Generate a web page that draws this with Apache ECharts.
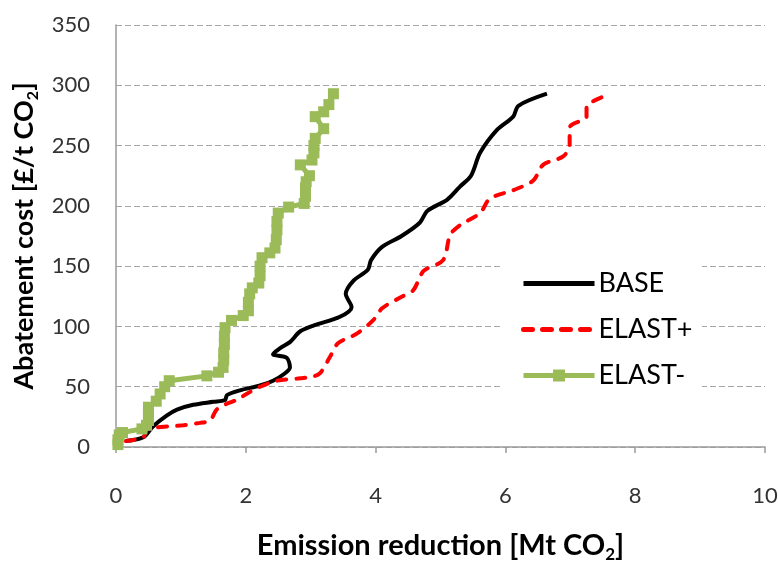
<!DOCTYPE html>
<html>
<head>
<meta charset="utf-8">
<script src="https://cdn.jsdelivr.net/npm/echarts@6/dist/echarts.min.js"></script>
<style>
  html, body { margin: 0; padding: 0; background: #fff; }
  #chart { width: 778px; height: 561px; }
</style>
</head>
<body>
<div id="chart"></div>
<script>
// Marginal abatement cost curves: emission reduction [Mt CO2] vs cost [£/t CO2]
const seriesNames = ['BASE', 'ELAST+', 'ELAST-'];

const baseCurve = [
  [0.15, 5], [0.42, 8], [0.57, 17], [0.78, 26], [0.94, 31], [1.19, 35], [1.5, 37.5],
  [1.68, 39], [1.71, 43], [1.91, 47], [2.22, 51], [2.42, 55], [2.6, 61], [2.68, 66],
  [2.63, 74], [2.42, 77], [2.53, 82], [2.68, 87], [2.84, 96], [3.06, 101], [3.45, 108],
  [3.63, 116], [3.54, 127], [3.66, 138], [3.88, 147], [3.93, 155], [4.1, 166],
  [4.4, 175], [4.68, 186], [4.8, 196], [5.1, 205], [5.3, 216], [5.47, 225], [5.61, 244],
  [5.87, 263], [6.12, 274], [6.2, 283], [6.64, 293]
];

const elastPlusCurve = [
  [0.15, 5], [0.42, 8], [0.47, 14], [0.6, 16], [0.78, 17], [1.04, 18], [1.29, 20],
  [1.45, 22], [1.55, 31], [1.71, 36], [1.86, 39], [2.01, 44], [2.22, 50], [2.48, 55],
  [2.84, 57], [3.0, 58], [3.14, 61], [3.3, 75], [3.42, 86], [3.71, 94], [3.96, 105],
  [4.1, 115], [4.38, 124], [4.58, 130], [4.74, 146], [5.04, 155], [5.15, 176],
  [5.3, 184], [5.61, 194], [5.76, 206], [6.12, 213], [6.43, 221], [6.58, 234],
  [6.89, 241], [6.99, 250], [6.99, 265], [7.25, 274], [7.25, 282], [7.53, 291]
];

const elastMinusCurve = [
  [0.03, 2], [0.03, 6], [0.05, 10], [0.1, 12], [0.4, 15], [0.47, 18], [0.5, 22],
  [0.5, 28], [0.5, 33], [0.62, 38], [0.68, 44], [0.75, 50], [0.82, 55], [1.4, 59],
  [1.58, 62], [1.65, 66], [1.66, 72], [1.66, 78], [1.67, 85], [1.67, 92], [1.68, 99],
  [1.78, 105], [1.96, 109], [2.04, 113], [2.04, 120], [2.06, 127], [2.1, 132],
  [2.2, 136], [2.22, 142], [2.22, 150], [2.25, 157], [2.37, 161], [2.45, 165],
  [2.47, 172], [2.48, 180], [2.48, 187], [2.5, 194], [2.66, 199], [2.9, 202],
  [2.92, 208], [2.92, 215], [2.93, 220], [2.98, 225], [2.84, 234], [3.02, 238],
  [3.05, 244], [3.05, 250], [3.07, 256], [3.2, 264], [3.07, 274], [3.2, 278],
  [3.28, 284], [3.35, 293]
];

const xTicks = { min: 0, max: 10, interval: 2 };
const yTicks = { min: 0, max: 350, interval: 50 };

const FONT = 'Lato, "Open Sans", sans-serif';

const chart = echarts.init(document.getElementById('chart'), null, { renderer: 'canvas' });

// Axis titles with a lowered subscript "2"
function titleRich(size) {
  return {
    a: { fontSize: size, fontWeight: 'bold', fontFamily: FONT, color: '#000', lineHeight: size + 6 },
    s: { fontSize: Math.round(size * 0.6), fontWeight: 'bold', fontFamily: FONT, color: '#000', lineHeight: 16, verticalAlign: 'bottom' }
  };
}

chart.setOption({
  animation: false,
  backgroundColor: '#fff',
  grid: { left: 116, right: 13, top: 25, bottom: 114, containLabel: false, outerBoundsMode: 'none' },
  xAxis: {
    type: 'value',
    min: xTicks.min, max: xTicks.max, interval: xTicks.interval,
    name: '{a|Emission reduction [Mt CO}{s|2}{a|]}',
    nameLocation: 'middle',
    nameGap: 81,
    nameTextStyle: { rich: titleRich(29) },
    axisLine: { show: true, lineStyle: { color: '#9a9a9a', width: 1.5 } },
    axisTick: { show: true, length: 6, inside: false, lineStyle: { color: '#9a9a9a', width: 1.5 } },
    axisLabel: { margin: 38, fontSize: 22, fontFamily: FONT, color: '#333' },
    splitLine: { show: false }
  },
  yAxis: {
    type: 'value',
    min: yTicks.min, max: yTicks.max, interval: yTicks.interval,
    name: '{a|Abatement cost [£/t CO}{s|2}{a|]}',
    nameLocation: 'middle',
    nameGap: 58,
    nameRotate: 90,
    nameTextStyle: { rich: titleRich(27) },
    axisLine: { show: true, lineStyle: { color: '#9a9a9a', width: 1.5 } },
    axisTick: { show: false },
    axisLabel: { margin: 26, fontSize: 22, fontFamily: FONT, color: '#333' },
    splitLine: { show: true, lineStyle: { color: '#a6a6a6', width: 1.2, type: [6, 3] } }
  },
  legend: {
    orient: 'vertical',
    left: 521,
    top: 270,
    padding: 0,
    itemWidth: 71,
    itemHeight: 15,
    itemGap: 19,
    textStyle: { fontSize: 27, fontFamily: FONT, color: '#000', padding: [0, 0, 0, -1] },
    data: [
      { name: seriesNames[0], itemStyle: { opacity: 0 }, lineStyle: { width: 5 } },
      { name: seriesNames[1], itemStyle: { opacity: 0 }, lineStyle: { width: 5, type: [9, 10], cap: 'round' } },
      { name: seriesNames[2], lineStyle: { width: 5 } }
    ]
  },
  graphic: [{
    type: 'rect',
    shape: { x: 503, y: 252, width: 199, height: 146 },
    style: { fill: '#fff' },
    z: 1
  }],
  series: [
    {
      name: seriesNames[0],
      type: 'line',
      data: baseCurve,
      symbol: 'none',
      smooth: 0.3,
      z: 3,
      lineStyle: { color: '#000', width: 4 },
      itemStyle: { color: '#000' }
    },
    {
      name: seriesNames[1],
      type: 'line',
      data: elastPlusCurve,
      symbol: 'none',
      smooth: 0.3,
      z: 3,
      lineStyle: { color: '#ff0000', width: 4, type: [9, 10], cap: 'round' },
      itemStyle: { color: '#ff0000' }
    },
    {
      name: seriesNames[2],
      type: 'line',
      data: elastMinusCurve,
      symbol: 'rect',
      symbolSize: 11,
      z: 4,
      lineStyle: { color: '#9bbb59', width: 5 },
      itemStyle: { color: '#9bbb59' }
    }
  ]
});
</script>
</body>
</html>
